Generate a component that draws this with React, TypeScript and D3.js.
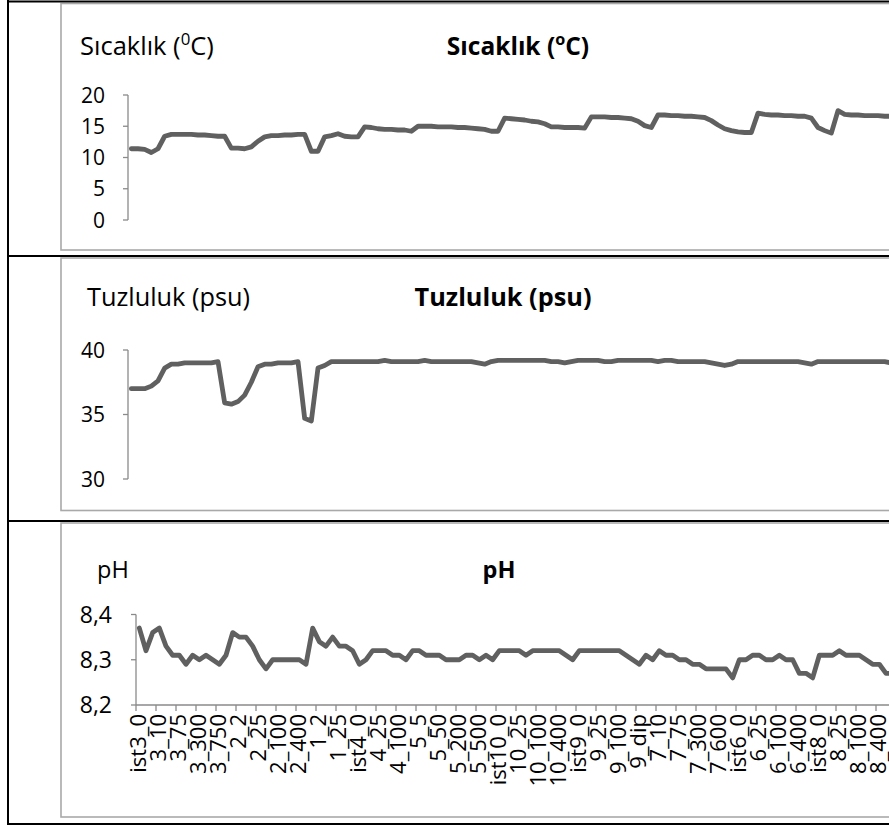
import React from 'react';
import * as d3 from 'd3';

// Sampling stations (every third category carries a label)
const stationLabels = [
  'ist3_0', '3_10', '3_75', '3_300', '3_750', '2_2', '2_25', '2_100', '2_400', '1_2',
  '1_25', 'ist4_0', '4_25', '4_100', '5_5', '5_50', '5_200', '5_500', 'ist10_0', '10_25',
  '10_100', '10_400', 'ist9_0', '9_25', '9_100', '9_dip', '7_10', '7_75', '7_300', '7_600',
  'ist6_0', '6_25', '6_100', '6_400', 'ist8_0', '8_25', '8_100', '8_400',
];

// Temperature (°C)
const temperature = [
  11.4, 11.4, 11.3, 10.8, 11.4, 13.4, 13.7, 13.7, 13.7, 13.7,
  13.6, 13.6, 13.5, 13.4, 13.4, 11.5, 11.5, 11.4, 11.7, 12.6,
  13.3, 13.5, 13.5, 13.6, 13.6, 13.7, 13.7, 11.0, 11.0, 13.3,
  13.5, 13.8, 13.4, 13.3, 13.3, 14.9, 14.8, 14.6, 14.5, 14.5,
  14.4, 14.4, 14.2, 15.0, 15.0, 15.0, 14.9, 14.9, 14.9, 14.8,
  14.8, 14.7, 14.6, 14.5, 14.2, 14.2, 16.3, 16.2, 16.1, 16.0,
  15.8, 15.7, 15.4, 14.9, 14.9, 14.8, 14.8, 14.8, 14.7, 16.5,
  16.5, 16.5, 16.4, 16.4, 16.3, 16.2, 15.8, 15.1, 14.8, 16.8,
  16.8, 16.7, 16.7, 16.6, 16.6, 16.5, 16.4, 15.9, 15.2, 14.6,
  14.3, 14.1, 14.0, 14.0, 17.1, 16.9, 16.8, 16.8, 16.7, 16.7,
  16.6, 16.6, 16.3, 14.8, 14.3, 13.9, 17.5, 16.9, 16.8, 16.8,
  16.7, 16.7, 16.7, 16.6, 16.6,
];

// Salinity (psu)
const salinity = [
  37.0, 37.0, 37.0, 37.2, 37.6, 38.6, 38.9, 38.9, 39.0, 39.0,
  39.0, 39.0, 39.0, 39.1, 35.9, 35.8, 36.0, 36.5, 37.5, 38.7,
  38.9, 38.9, 39.0, 39.0, 39.0, 39.1, 34.7, 34.5, 38.6, 38.8,
  39.1, 39.1, 39.1, 39.1, 39.1, 39.1, 39.1, 39.1, 39.2, 39.1,
  39.1, 39.1, 39.1, 39.1, 39.2, 39.1, 39.1, 39.1, 39.1, 39.1,
  39.1, 39.1, 39.0, 38.9, 39.1, 39.2, 39.2, 39.2, 39.2, 39.2,
  39.2, 39.2, 39.2, 39.1, 39.1, 39.0, 39.1, 39.2, 39.2, 39.2,
  39.2, 39.1, 39.1, 39.2, 39.2, 39.2, 39.2, 39.2, 39.2, 39.1,
  39.2, 39.2, 39.1, 39.1, 39.1, 39.1, 39.1, 39.0, 38.9, 38.8,
  38.9, 39.1, 39.1, 39.1, 39.1, 39.1, 39.1, 39.1, 39.1, 39.1,
  39.1, 39.0, 38.9, 39.1, 39.1, 39.1, 39.1, 39.1, 39.1, 39.1,
  39.1, 39.1, 39.1, 39.1, 39.0,
];

// pH
const ph = [
  8.37, 8.32, 8.36, 8.37, 8.33, 8.31, 8.31, 8.29, 8.31, 8.30,
  8.31, 8.30, 8.29, 8.31, 8.36, 8.35, 8.35, 8.33, 8.30, 8.28,
  8.30, 8.30, 8.30, 8.30, 8.30, 8.29, 8.37, 8.34, 8.33, 8.35,
  8.33, 8.33, 8.32, 8.29, 8.30, 8.32, 8.32, 8.32, 8.31, 8.31,
  8.30, 8.32, 8.32, 8.31, 8.31, 8.31, 8.30, 8.30, 8.30, 8.31,
  8.31, 8.30, 8.31, 8.30, 8.32, 8.32, 8.32, 8.32, 8.31, 8.32,
  8.32, 8.32, 8.32, 8.32, 8.31, 8.30, 8.32, 8.32, 8.32, 8.32,
  8.32, 8.32, 8.32, 8.31, 8.30, 8.29, 8.31, 8.30, 8.32, 8.31,
  8.31, 8.30, 8.30, 8.29, 8.29, 8.28, 8.28, 8.28, 8.28, 8.26,
  8.30, 8.30, 8.31, 8.31, 8.30, 8.30, 8.31, 8.30, 8.30, 8.27,
  8.27, 8.26, 8.31, 8.31, 8.31, 8.32, 8.31, 8.31, 8.31, 8.30,
  8.29, 8.29, 8.27, 8.27, 8.27,
];

const temperatureTicks = [0, 5, 10, 15, 20];
const salinityTicks = [30, 35, 40];
const phTicks = [8.2, 8.3, 8.4];

const W = 889;
const H = 825;
const CAT_STEP = 20 / 3;
const LABEL_EVERY = 3;
const FONT = '"Open Sans", Lato, sans-serif';
const LINE_COLOR = '#606060';
const AXIS_COLOR = '#8a8a8a';
const FRAME_GRAY = '#a9a9a9';

type Part = { t: string; sup?: boolean };

function RichText({ parts, x, y, anchor, size, bold }: {
  parts: Part[]; x: number; y: number; anchor: 'start' | 'middle' | 'end'; size: number; bold?: boolean;
}) {
  const shift = size * 0.4;
  let raised = false;
  return (
    <text x={x} y={y} textAnchor={anchor} fontFamily={FONT} fontSize={size}
      fontWeight={bold ? 700 : 400} fill="#000">
      {parts.map((p, i) => {
        let dy = 0;
        if (p.sup && !raised) { dy = -shift; raised = true; }
        else if (!p.sup && raised) { dy = shift; raised = false; }
        return (
          <tspan key={i} dy={dy || undefined} fontSize={p.sup ? size * 0.66 : undefined}>{p.t}</tspan>
        );
      })}
    </text>
  );
}

type PanelSpec = {
  id: string;
  values: number[];
  ticks: number[];
  domain: [number, number];
  axisX: number;
  yRange: [number, number];
  fmt: (v: number) => string;
  tickSize: number;
  tickGap: number;
  frameTop: number;
  frameBottom: number;
  label: Part[];
  labelX: number;
  labelY: number;
  labelSize: number;
  title: Part[];
  titleX: number;
  titleY: number;
  titleSize: number;
  xAxis: boolean;
};

const commaFmt = (v: number) => d3.format('.1f')(v).replace('.', ',');

const panels: PanelSpec[] = [
  {
    id: 'temp', values: temperature, ticks: temperatureTicks, domain: [0, 20],
    axisX: 128, yRange: [220, 95], fmt: d3.format('d'), tickSize: 21, tickGap: 23,
    frameTop: 3.5, frameBottom: 250,
    label: [{ t: 'Sıcaklık (' }, { t: '0', sup: true }, { t: 'C)' }], labelX: 80, labelY: 55, labelSize: 25.5,
    title: [{ t: 'Sıcaklık (' }, { t: 'o', sup: true }, { t: 'C)' }], titleX: 518, titleY: 55, titleSize: 24.5,
    xAxis: false,
  },
  {
    id: 'sal', values: salinity, ticks: salinityTicks, domain: [30, 40],
    axisX: 128, yRange: [479, 350], fmt: d3.format('d'), tickSize: 21, tickGap: 23,
    frameTop: 258, frameBottom: 510.5,
    label: [{ t: 'Tuzluluk (psu)' }], labelX: 87, labelY: 306, labelSize: 25.3,
    title: [{ t: 'Tuzluluk (psu)' }], titleX: 503, titleY: 306, titleSize: 25.3,
    xAxis: false,
  },
  {
    id: 'ph', values: ph, ticks: phTicks, domain: [8.2, 8.4],
    axisX: 136, yRange: [705, 614.5], fmt: commaFmt, tickSize: 23, tickGap: 24,
    frameTop: 523, frameBottom: 817,
    label: [{ t: 'pH' }], labelX: 97, labelY: 578, labelSize: 23.5,
    title: [{ t: 'pH' }], titleX: 499, titleY: 578, titleSize: 23.5,
    xAxis: true,
  },
];

function Panel({ spec }: { spec: PanelSpec }) {
  const n = spec.values.length;
  const x = d3.scaleBand<number>()
    .domain(d3.range(n))
    .range([spec.axisX, spec.axisX + n * CAT_STEP])
    .paddingInner(0).paddingOuter(0);
  const y = d3.scaleLinear().domain(spec.domain).range(spec.yRange);
  const cx = (i: number) => (x(i) as number) + x.bandwidth() / 2;
  const line = d3.line<number>().x((_, i) => cx(i)).y((d) => y(d));
  const [y0, y1] = spec.yRange;
  const xTickIdx = d3.range(0, n, LABEL_EVERY);

  return (
    <g>
      {/* chart area */}
      <rect x={61} y={spec.frameTop} width={W} height={spec.frameBottom - spec.frameTop}
        fill="#fff" stroke={FRAME_GRAY} strokeWidth={1.6} />
      <RichText parts={spec.label} x={spec.labelX} y={spec.labelY} anchor="start" size={spec.labelSize} />
      <RichText parts={spec.title} x={spec.titleX} y={spec.titleY} anchor="middle" size={spec.titleSize} bold />

      {/* value axis */}
      <line x1={spec.axisX} x2={spec.axisX} y1={y0} y2={y1} stroke={AXIS_COLOR} strokeWidth={1.3} />
      {spec.ticks.map((t) => (
        <g key={t}>
          <line x1={spec.axisX - 5} x2={spec.axisX} y1={y(t)} y2={y(t)} stroke={AXIS_COLOR} strokeWidth={1.3} />
          <text x={spec.axisX - spec.tickGap} y={y(t)} dy="0.36em" textAnchor="end" fontFamily={FONT}
            fontSize={spec.tickSize} fill="#000">
            {spec.fmt(t)}
          </text>
        </g>
      ))}

      {/* category axis */}
      {spec.xAxis && (
        <g>
          <line x1={spec.axisX} x2={W + 10} y1={y0} y2={y0} stroke={AXIS_COLOR} strokeWidth={1.3} />
          {xTickIdx.map((i) => (
            <line key={`t${i}`} x1={x(i) as number} x2={x(i) as number} y1={y0} y2={y0 + 6}
              stroke={AXIS_COLOR} strokeWidth={1.3} />
          ))}
          {xTickIdx.map((i) => {
            const lab = stationLabels[i / LABEL_EVERY];
            if (!lab) return null;
            return (
              <text key={`l${i}`} transform={`translate(${cx(i) - 1.5},${y0 + 9}) rotate(-90)`}
                textAnchor="end" dy="0.36em" fontFamily={FONT} fontSize={22} fill="#000">
                {lab}
              </text>
            );
          })}
        </g>
      )}

      <path d={line(spec.values) || ''} fill="none" stroke={LINE_COLOR} strokeWidth={4.8}
        strokeLinejoin="round" strokeLinecap="round" />
    </g>
  );
}

export default function App() {
  return (
    <svg width={W} height={H} viewBox={`0 0 ${W} ${H}`}
      style={{ position: 'absolute', left: 0, top: 0, background: '#fff' }}>
      <rect x={0} y={0} width={W} height={H} fill="#fff" />
      {panels.map((p) => <Panel key={p.id} spec={p} />)}
      {/* table rules */}
      <line x1={8} x2={8} y1={0} y2={H} stroke="#000" strokeWidth={2} />
      {[1.5, 256, 521, 824].map((yy) => (
        <line key={yy} x1={7} x2={W} y1={yy} y2={yy} stroke="#000" strokeWidth={2} />
      ))}
    </svg>
  );
}
